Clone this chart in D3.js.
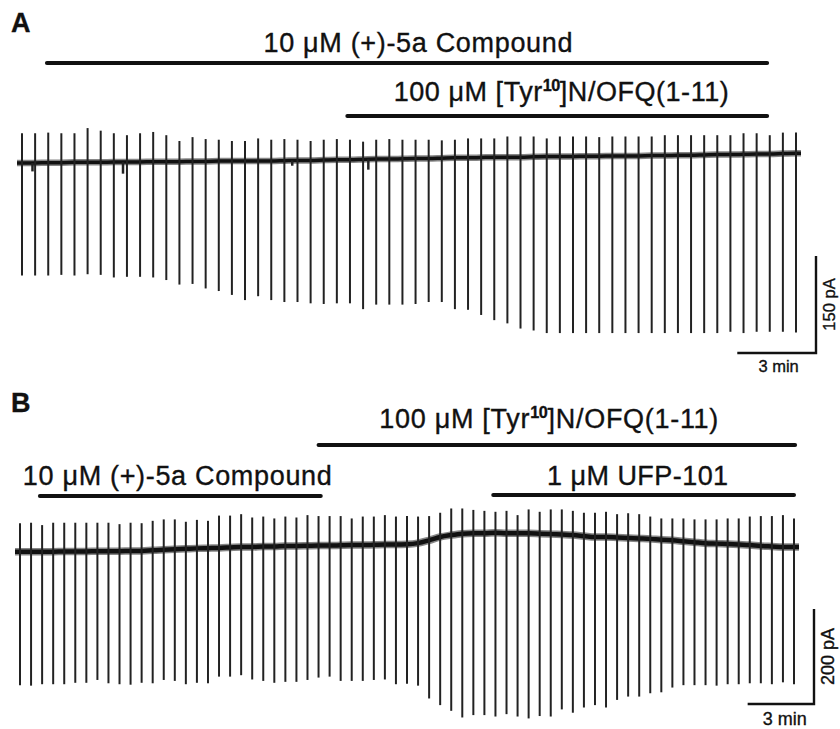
<!DOCTYPE html>
<html>
<head>
<meta charset="utf-8">
<script src="https://cdn.jsdelivr.net/npm/d3@7/dist/d3.min.js"></script>
<style>
  body { margin: 0; background: #fff; }
  text { font-family: "Liberation Sans", Arial, sans-serif; fill: #111; stroke: #111; stroke-width: 0.35; }
</style>
</head>
<body>
<div id="chart"></div>
<script>
// one test pulse every 30 s
const sweepMin = 0.5;

// Panel A, pA relative to the starting holding current
const aTop = [46, 46, 47, 46, 46, 54, 50, 46, 43, 46,
  48, 43, 34, 40, 37, 36, 34, 34, 38, 36,
  37, 36, 34, 36, 37, 36, 33, 36, 37, 36,
  36, 36, 35, 36, 38, 38, 38, 41, 41, 41,
  38, 41, 41, 41, 40, 41, 41, 41, 41, 43,
  43, 43, 43, 43, 43, 46, 46, 43, 47, 47];
const aBottom = [-174, -174, -174, -173, -174, -172, -173, -177, -176, -176,
  -177, -181, -188, -187, -194, -198, -204, -212, -206, -212,
  -215, -215, -217, -218, -217, -217, -226, -219, -219, -219,
  -218, -215, -215, -226, -227, -235, -243, -248, -256, -259,
  -263, -263, -263, -263, -263, -263, -263, -263, -263, -263,
  -263, -263, -263, -263, -261, -263, -261, -261, -261, -262];
const aBaseline = [0, 0, 0.5, 0.5, 1, 1, 1, 1.5, 1.5, 1.5,
  2, 2, 2, 2.5, 2.5, 3, 3, 3, 3, 3,
  3.5, 4, 4, 4.5, 5, 5, 5.5, 6, 6, 6.5,
  7, 7, 7.5, 8, 8, 8.5, 9, 9, 9, 9.5,
  10, 10, 10, 10.5, 10.5, 11, 11, 11, 11.5, 11.5,
  12, 12, 12.5, 13, 13, 13.5, 14, 14, 14.5, 15];
// small spontaneous inward events on the trace: time (min), size (pA)
const aEventTime = [0.4, 3.85, 13.2, 10.3];
const aEventSize = [-13, -18, -16, -8];
// drug bars: label, start and end (min)
const aBarLabel = ["10 μM (+)-5a Compound", "100 μM [Tyr^10]N/OFQ(1-11)"];
const aBarStart = [0.95, 12.4];
const aBarEnd = [28.4, 28.4];

// Panel B
const bTop = [60, 61, 56, 61, 61, 61, 61, 61, 61, 58,
  61, 60, 65, 68, 68, 63, 67, 65, 76, 76,
  79, 72, 74, 70, 74, 72, 77, 75, 75, 75,
  70, 74, 74, 77, 74, 75, 74, 75, 82, 91,
  91, 88, 86, 84, 86, 77, 89, 84, 89, 89,
  86, 82, 82, 84, 79, 81, 79, 74, 70, 70,
  70, 68, 68, 68, 70, 70, 74, 75, 75, 77, 70];
const bBottom = [-281, -282, -279, -279, -279, -276, -276, -270, -277, -279,
  -280, -276, -277, -270, -272, -279, -276, -277, -263, -263,
  -260, -269, -272, -276, -274, -274, -270, -265, -263, -272,
  -272, -272, -270, -269, -279, -278, -282, -309, -323, -335,
  -349, -344, -344, -347, -342, -347, -351, -346, -347, -332,
  -339, -328, -323, -328, -312, -305, -305, -298, -296, -286,
  -281, -281, -281, -282, -279, -279, -277, -277, -279, -275, -279];
const bBaseline = [0, 0, 0, 0, 0.5, 0.5, 0.5, 1, 1, 1,
  1.5, 1.5, 3, 4, 5, 6, 7, 7.5, 8, 9,
  10, 10, 11, 11, 12, 12, 12.5, 13, 13, 13.5,
  14, 14, 14.5, 15, 15, 15.5, 18, 24, 31, 35,
  38, 39, 39, 40, 39, 39, 39, 38, 37, 36,
  35, 33, 31, 31, 30, 29, 28, 27, 25, 24,
  22, 20, 18, 17, 16, 15, 14, 12, 11, 10, 10];
const bEventTime = [];
const bEventSize = [];
const bBarLabel = ["100 μM [Tyr^10]N/OFQ(1-11)", "10 μM (+)-5a Compound", "1 μM UFP-101"];
const bBarStart = [13.5, 0.9, 21.4];
const bBarEnd = [35.05, 13.6, 35.0];

const W = 840, H = 729;
const svg = d3.select("#chart").append("svg")
  .attr("width", W)
  .attr("height", H);

function addLabel(g, label, x, y, size, width) {
  const t = g.append("text")
    .attr("x", x)
    .attr("y", y)
    .attr("text-anchor", "middle")
    .attr("font-size", size);
  const parts = label.split(/\^(\d+)/);
  parts.forEach((p, i) => {
    if (i % 2 === 1) {
      t.append("tspan").attr("font-size", size * 0.6).attr("font-weight", "bold")
        .attr("letter-spacing", -1).attr("dy", -size * 0.36).text(p);
    } else if (p) {
      const s = t.append("tspan").text(p);
      if (i > 0) s.attr("dy", size * 0.36);
    }
  });
  if (width) t.attr("textLength", width).attr("lengthAdjust", "spacing");
  return t;
}

function drawPanel(p) {
  const g = svg.append("g");
  const n = p.top.length;
  const times = p.top.map((d, i) => i * sweepMin);

  const x = d3.scaleLinear()
    .domain([0, (n - 1) * sweepMin])
    .range(p.xRange);
  const y = d3.scaleLinear()
    .domain([0, -p.scalePA])
    .range([p.y0, p.y0 + p.scalePx]);

  // panel letter
  g.append("text")
    .attr("x", 11)
    .attr("y", p.letterY)
    .attr("font-size", 27)
    .attr("font-weight", "bold")
    .text(p.letter);

  // drug application bars
  p.barLabel.forEach((lab, i) => {
    g.append("line")
      .attr("x1", x(p.barStart[i]))
      .attr("x2", x(p.barEnd[i]))
      .attr("y1", p.barY[i])
      .attr("y2", p.barY[i])
      .attr("stroke", "#111")
      .attr("stroke-width", 4)
      .attr("stroke-linecap", "round");
    const cx = (x(p.barStart[i]) + x(p.barEnd[i])) / 2 + p.labelDx[i];
    addLabel(g, lab, cx, p.barY[i] - p.labelGap[i], p.labelFont, p.labelW[i]);
  });

  // holding current trace
  const pts = times.map((t, i) => [x(t), y(p.base[i])]);
  pts.unshift([pts[0][0] - 5, pts[0][1]]);
  pts.push([pts[pts.length - 1][0] + 5, pts[pts.length - 1][1]]);
  const line = d3.line().curve(d3.curveMonotoneX);
  g.append("path")
    .attr("d", line(pts))
    .attr("fill", "none")
    .attr("stroke", "#222")
    .attr("stroke-opacity", 0.55)
    .attr("stroke-width", p.traceW + 3);
  g.append("path")
    .attr("d", line(pts))
    .attr("fill", "none")
    .attr("stroke", "#111")
    .attr("stroke-width", p.traceW);

  // spontaneous events
  const tMax = (n - 1) * sweepMin;
  g.selectAll(".ev")
    .data(p.evTime)
    .join("line")
    .attr("x1", d => x(d))
    .attr("x2", d => x(d))
    .attr("y1", d => y(d3.quantile(p.base, d / tMax)))
    .attr("y2", (d, i) => y(d3.quantile(p.base, d / tMax) + p.evSize[i]))
    .attr("stroke", "#222")
    .attr("stroke-width", 2.5);

  // test pulse responses
  g.selectAll(".sweep")
    .data(times)
    .join("line")
    .attr("x1", d => x(d))
    .attr("x2", d => x(d))
    .attr("y1", (d, i) => y(p.top[i]))
    .attr("y2", (d, i) => y(p.bottom[i]))
    .attr("stroke", "#222")
    .attr("stroke-width", 2);

  // scale bars
  const vx = p.scaleX, vy = p.scaleY;
  const hLen = x(3) - x(0);
  const vLen = y(-p.scalePA) - y(0);
  g.append("path")
    .attr("d", `M${vx - hLen},${vy}H${vx}V${vy - vLen}`)
    .attr("fill", "none")
    .attr("stroke", "#111")
    .attr("stroke-width", 2.4);
  g.append("text")
    .attr("x", vx - hLen / 2 + p.minDx)
    .attr("y", vy + p.minGap)
    .attr("text-anchor", "middle")
    .attr("font-size", p.scaleFont)
    .text("3 min");
  g.append("text")
    .attr("transform", `translate(${vx + p.paGap},${vy - vLen / 2 + p.paDy}) rotate(-90)`)
    .attr("text-anchor", "middle")
    .attr("font-size", p.scaleFont)
    .text(p.scalePA + " pA");
}

drawPanel({
  letter: "A", letterY: 32,
  top: aTop, bottom: aBottom, base: aBaseline,
  evTime: aEventTime, evSize: aEventSize,
  barLabel: aBarLabel, barStart: aBarStart, barEnd: aBarEnd,
  barY: [63, 116], labelGap: [11, 15], labelDx: [11, 4], labelW: [309, 335], labelFont: 27,
  xRange: [22, 796], y0: 163, scalePA: 150, scalePx: 97, traceW: 3.5,
  scaleX: 816, scaleY: 353, scaleFont: 16.5,
  minGap: 19, minDx: 2, paGap: 19, paDy: 0
});

drawPanel({
  letter: "B", letterY: 412,
  top: bTop, bottom: bBottom, base: bBaseline,
  evTime: bEventTime, evSize: bEventSize,
  barLabel: bBarLabel, barStart: bBarStart, barEnd: bBarEnd,
  barY: [445, 496, 495], labelGap: [17, 11, 10], labelDx: [-8, -3, -6], labelW: [339, 309, 181], labelFont: 27,
  xRange: [20, 794], y0: 551.7, scalePA: 200, scalePx: 95, traceW: 4.5,
  scaleX: 814, scaleY: 704, scaleFont: 18,
  minGap: 21, minDx: 4, paGap: 20, paDy: 0
});
</script>
</body>
</html>
